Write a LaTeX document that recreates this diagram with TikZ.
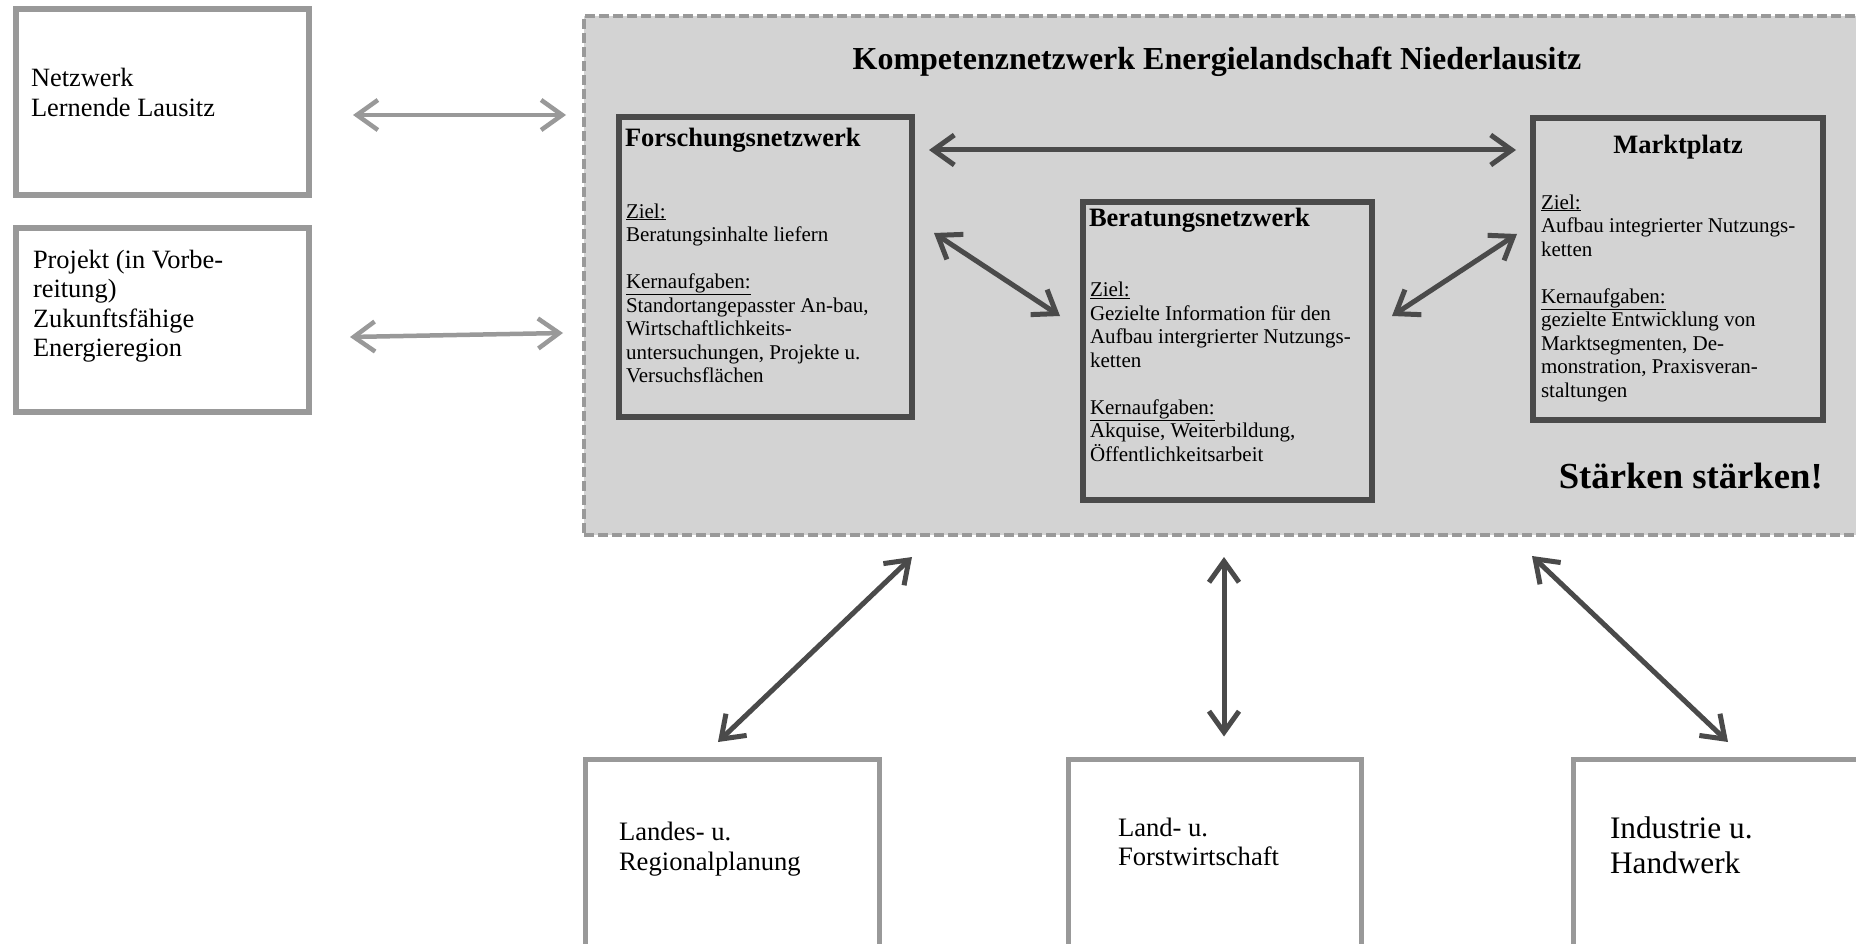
\documentclass[tikz,border=0pt]{standalone}
\usepackage{fontspec}
\setmainfont{Liberation Serif}
\usetikzlibrary{arrows.meta,calc}
\definecolor{dk}{HTML}{4A4A4A}
\definecolor{lt}{HTML}{999999}
\definecolor{fillg}{HTML}{D3D3D3}
\begin{document}
\begin{tikzpicture}[x=1pt,y=-1pt,
  wbox/.style={draw=lt, line width=5.5pt, fill=white, rectangle, inner sep=0pt, outer sep=0pt, anchor=north west},
  ibox/.style={draw=dk, line width=5.5pt, rectangle, inner sep=0pt, outer sep=0pt, anchor=north west},
  dbox/.style={draw=lt, line width=4.5pt, dash pattern=on 10pt off 4pt, fill=fillg, rectangle, inner sep=0pt, outer sep=0pt, anchor=north west},
  txt/.style={align=left, inner sep=0pt, outer sep=0pt, anchor=base west},
  bigtxt/.style={txt, font=\fontsize{26.4}{29.5}\selectfont},
  hd/.style={inner sep=0pt, outer sep=0pt, font=\bfseries\fontsize{26.5}{30}\selectfont},
  bodytxt/.style={txt, font=\fontsize{21}{23.5}\selectfont},
  tipb/.tip={Straight Barb[length=21pt,width=30pt]},
  arrD/.style={draw=dk, line width=5pt, tipb-tipb},
  arrL/.style={draw=lt, line width=4.5pt, tipb-tipb}
]
\clip (0,0) rectangle (1856,944);
\fill[white] (0,0) rectangle (1856,944);

% outer competence network area
\node[dbox, minimum width=1300pt, minimum height=519pt] (dash) at (584,16) {};
\node[anchor=base, inner sep=0pt, font=\bfseries\fontsize{32}{36}\selectfont] (title) at (1217,70) {Kompetenznetzwerk Energielandschaft Niederlausitz};

% left boxes (multi-line texts are placed by the baseline of their last line)
\node[wbox, minimum width=293pt, minimum height=186pt] (netz) at (16,9) {};
\node[bigtxt] (netzT) at (31,116.5) {Netzwerk\\Lernende Lausitz};
\node[wbox, minimum width=293pt, minimum height=184pt] (proj) at (16,228) {};
\node[bigtxt] (projT) at (33,356.5) {Projekt (in Vorbe-\\reitung)\\Zukunftsfähige\\Energieregion};

% inner boxes
\node[ibox, minimum width=293pt, minimum height=300pt] (forsch) at (619,117) {};
\node[hd, anchor=base west] (forschH) at (625,147) {Forschungsnetzwerk};
\node[bodytxt] (forschT) at (626,382.5) {\underline{Ziel:}\\Beratungsinhalte liefern\\[23.5pt]\underline{Kernaufgaben:}\\Standortangepasster An-bau,\\Wirtschaftlichkeits-\\untersuchungen, Projekte u.\\Versuchsflächen};

\node[ibox, minimum width=289pt, minimum height=298pt] (berat) at (1083,202) {};
\node[hd, anchor=base west] (beratH) at (1089,227) {Beratungsnetzwerk};
\node[bodytxt] (beratT) at (1090,461) {\underline{Ziel:}\\Gezielte Information für den\\Aufbau intergrierter Nutzungs-\\ketten\\[23.5pt]\underline{Kernaufgaben:}\\Akquise, Weiterbildung,\\Öffentlichkeitsarbeit};

\node[ibox, minimum width=290pt, minimum height=302pt] (markt) at (1533,118) {};
\node[hd, anchor=base] (marktH) at (1678,154) {Marktplatz};
\node[bodytxt] (marktT) at (1541,397) {\underline{Ziel:}\\Aufbau integrierter Nutzungs-\\ketten\\[23.5pt]\underline{Kernaufgaben:}\\gezielte Entwicklung von\\Marktsegmenten, De-\\monstration, Praxisveran-\\staltungen};

\node[anchor=base east, inner sep=0pt, font=\bfseries\fontsize{36.7}{40}\selectfont] (staerken) at (1823,488) {Stärken stärken!};

% bottom boxes
\node[wbox, minimum width=294pt, minimum height=250pt] (landes) at (585.5,759.5) {};
\node[txt, font=\fontsize{26.6}{30}\selectfont] (landesT) at (619,870) {Landes- u.\\Regionalplanung};
\node[wbox, minimum width=293pt, minimum height=250pt] (land) at (1068.5,759.5) {};
\node[txt, font=\fontsize{26.6}{29}\selectfont] (landT) at (1118,865) {Land- u.\\Forstwirtschaft};
\node[wbox, minimum width=320pt, minimum height=250pt] (ind) at (1573.5,759.5) {};
\node[txt, font=\fontsize{31.3}{35.5}\selectfont] (indT) at (1610,873.5) {Industrie u.\\Handwerk};

% connectors
\draw[arrL] ($(netz.east)+(44,13)$) -- ($(dash.west |- netz.east)+(-18,13)$);
\draw[arrL] ($(proj.east)+(41,17)$) -- ($(dash.west |- proj.east)+(-21,13)$);
\draw[arrD] ($(forsch.north east)+(17,33)$) -- ($(markt.north west)+(-17,32)$);
\draw[arrD] ($(forsch.north east)+(22,116)$) -- ($(berat.north west)+(-23,114)$);
\draw[arrD] ($(berat.north east)+(20,114)$) -- ($(markt.north west)+(-16,116)$);
\draw[arrD] ($(forsch.east |- dash.south)+(0,22)$) -- ($(landes.north west)+(132.5,-17.5)$);
\draw[arrD] ($(land.north |- dash.south)+(9,22)$) -- ($(land.north)+(9,-23)$);
\draw[arrD] ($(markt.west |- dash.south)+(-1,21)$) -- ($(ind.north west)+(154.5,-17.5)$);
\end{tikzpicture}
\end{document}
